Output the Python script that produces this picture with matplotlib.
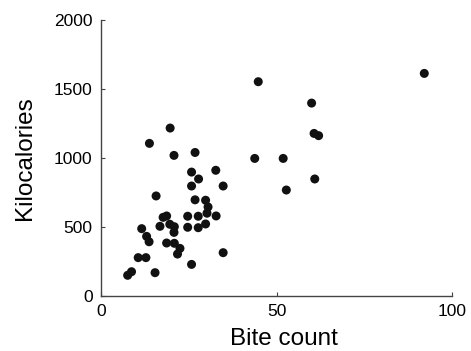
import matplotlib.pyplot as plt

plt.rcParams['font.family'] = ['Liberation Sans', 'DejaVu Sans']

# bite count vs kilocalories
bites = [92.1, 44.8, 60.0, 60.7, 62.0, 43.8, 51.9, 60.9, 52.8,
         19.7, 13.8, 20.8, 26.8, 25.8, 27.8, 25.8, 32.7, 34.8, 15.7,
         26.8, 29.8, 30.5, 24.7, 27.7, 32.8, 30.2, 29.8, 24.7, 27.7,
         18.7, 16.8, 19.6, 20.8, 20.9, 11.6, 13.0, 13.7, 18.7, 20.9,
         22.5, 21.8, 25.8, 34.8, 10.6, 12.8, 15.4, 8.7, 7.6, 17.7]
kcal = [1613, 1553, 1398, 1178, 1162, 997, 997, 848, 768,
        1217, 1106, 1019, 1040, 898, 848, 797, 911, 797, 725,
        697, 694, 645, 578, 578, 580, 600, 522, 498, 495,
        580, 505, 520, 461, 502, 488, 432, 393, 384, 382,
        345, 304, 229, 314, 278, 278, 169, 176, 150, 570]

fig = plt.figure(figsize=(4.71, 3.51), dpi=100)
ax = fig.add_axes([0.2144, 0.1567, 0.7453, 0.7863])
ax.scatter(bites, kcal, s=42, color='#111111', edgecolors='none', clip_on=False)

ax.set_xlim(0, 100)
ax.set_ylim(0, 2000)
ax.set_xticks([0, 50, 100])
ax.set_yticks([0, 500, 1000, 1500, 2000])
ax.spines['top'].set_visible(False)
ax.spines['right'].set_visible(False)
for s in ['left', 'bottom']:
    ax.spines[s].set_color('#444444')
    ax.spines[s].set_linewidth(1.0)
ax.tick_params(direction='in', length=3, color='#444444', labelsize=12.5, pad=6)
ax.set_xlabel('Bite count', fontsize=17.5)
ax.set_ylabel('Kilocalories', fontsize=17.5)
ax.xaxis.set_label_coords(0.52, -0.115)
ax.yaxis.set_label_coords(-0.185, 0.5)

fig.savefig('out.png', dpi=100)
